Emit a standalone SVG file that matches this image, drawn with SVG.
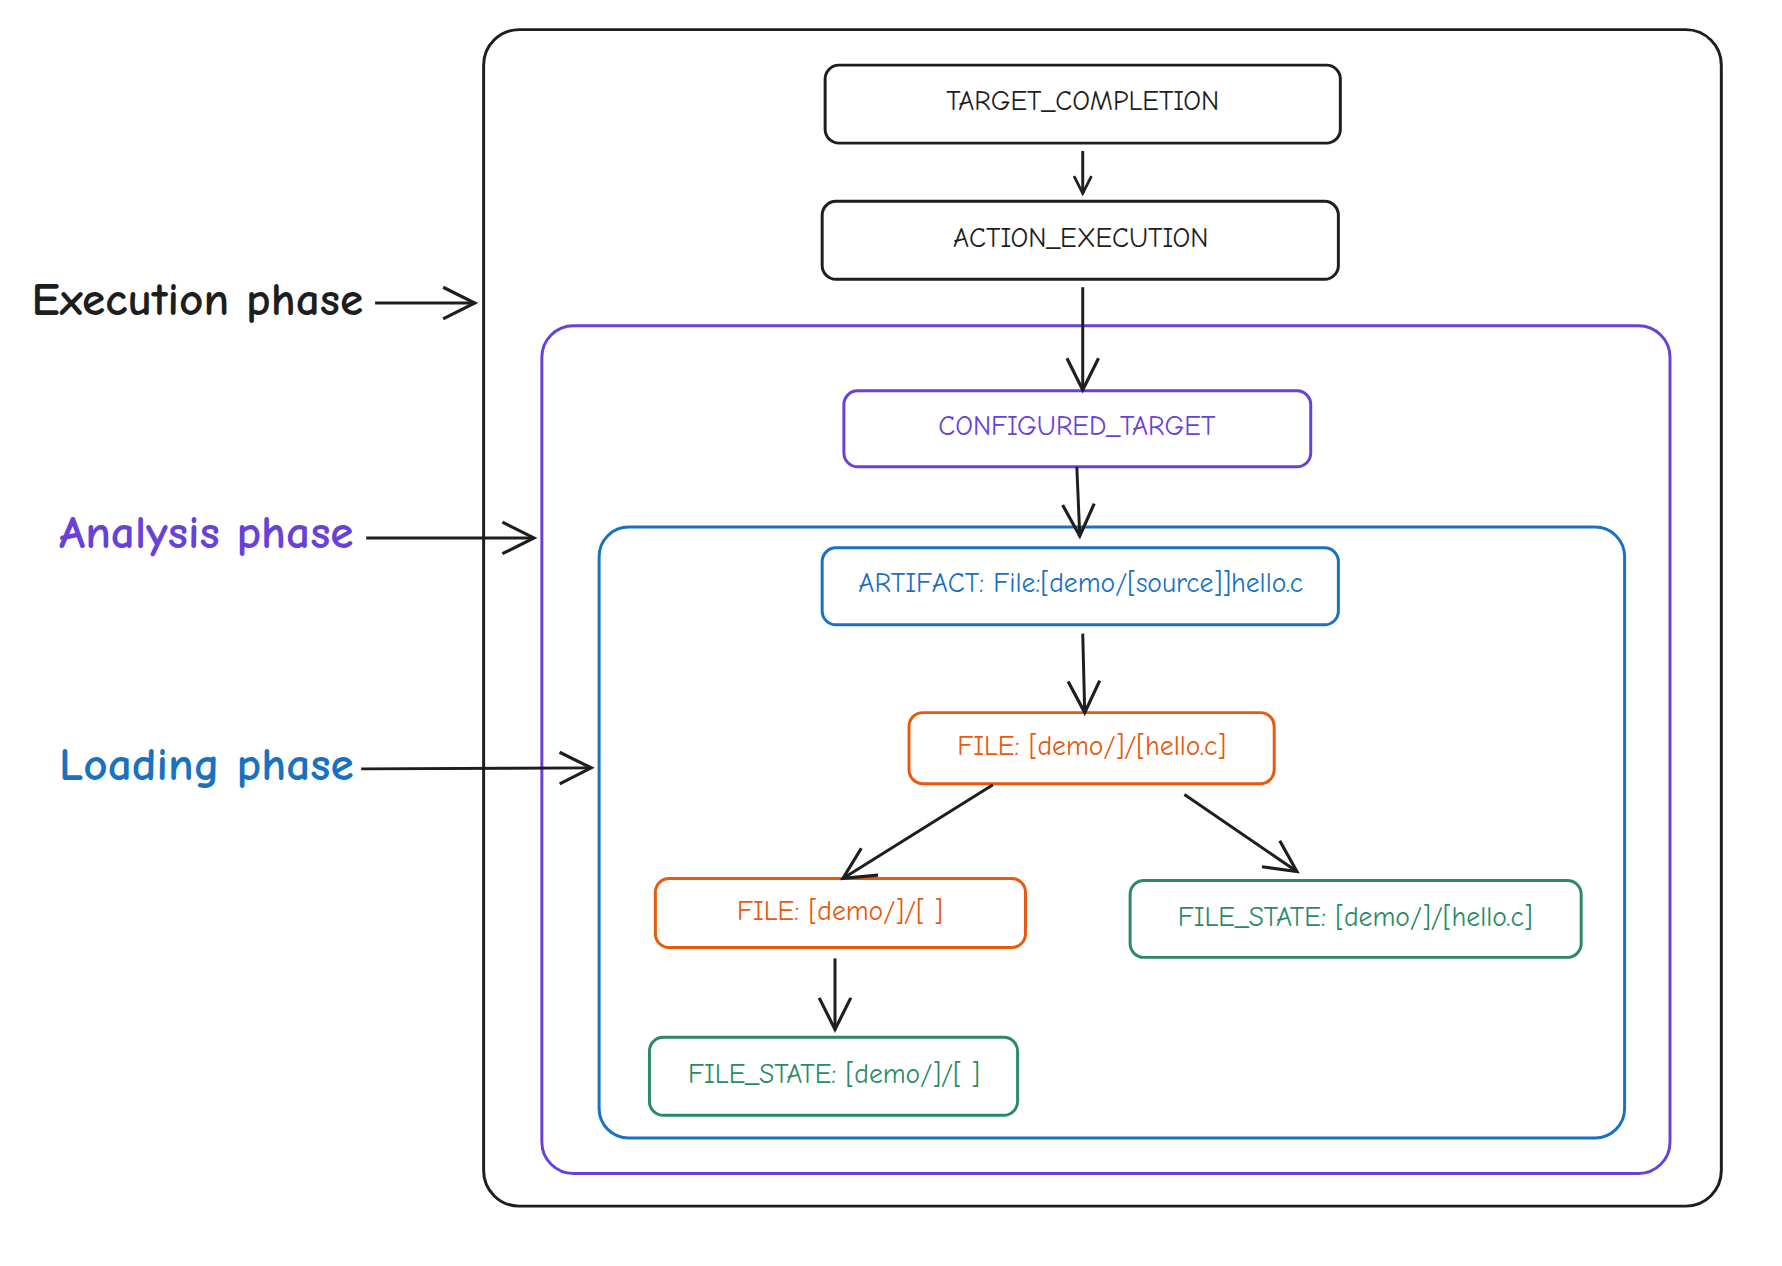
<svg xmlns="http://www.w3.org/2000/svg" width="1782" height="1266" viewBox="0 0 1782 1266">
<defs>
<marker id="ah" viewBox="0 0 20 20" refX="18" refY="10" markerWidth="22" markerHeight="22" markerUnits="userSpaceOnUse" orient="auto"><path d="M2,2 L18,10 L2,18" fill="none" stroke="#1e1e1e" stroke-width="2.5"/></marker>
<marker id="ahl" viewBox="0 0 20 20" refX="18" refY="10" markerWidth="40" markerHeight="40" markerUnits="userSpaceOnUse" orient="auto"><path d="M2,2 L18,10 L2,18" fill="none" stroke="#1e1e1e" stroke-width="1.6"/></marker>
</defs>
<style>
text{font-family:"Comic Neue","Liberation Sans",sans-serif;text-anchor:middle;dominant-baseline:middle}
.n{fill:#fff;stroke-width:3}
.k{stroke:#1e1e1e}.p{stroke:#6741d9}.b{stroke:#1971c2}.o{stroke:#e8590c}.g{stroke:#2b8a66}
.t{font-size:28px}
.l{font-size:48px;font-weight:bold}
.c{fill:none;stroke:#1e1e1e;stroke-width:3}
</style>
<rect width="1782" height="1266" fill="#fff"/>
<g transform="scale(0.987)">
<g id="execution"><rect x="490" y="30" width="1254" height="1192" rx="36" fill="none" stroke="#1e1e1e" stroke-width="3"/></g>
<g id="analysis"><rect x="549" y="330" width="1143" height="859" rx="32" fill="none" stroke="#6741d9" stroke-width="3"/></g>
<g id="loading"><rect x="607" y="534" width="1039" height="619" rx="30" fill="none" stroke="#1971c2" stroke-width="3"/></g>
<g id="n1"><rect class="n k" x="836" y="66" width="522" height="79" rx="14"/><text class="t" x="1097" y="105" fill="#1e1e1e">TARGET_COMPLETION</text></g>
<g id="n2"><rect class="n k" x="833" y="204" width="523" height="79" rx="14"/><text class="t" x="1095" y="243" fill="#1e1e1e">ACTION_EXECUTION</text></g>
<g id="n3"><rect class="n p" x="855" y="396" width="473" height="77" rx="14"/><text class="t" x="1091" y="434" fill="#6741d9">CONFIGURED_TARGET</text></g>
<g id="n4"><rect class="n b" x="833" y="555" width="523" height="78" rx="14"/><text class="t" x="1095" y="593" fill="#1971c2">ARTIFACT: File:[demo/[source]]hello.c</text></g>
<g id="n5"><rect class="n o" x="921" y="722" width="370" height="72" rx="14"/><text class="t" x="1106" y="758" fill="#e8590c">FILE: [demo/]/[hello.c]</text></g>
<g id="n6"><rect class="n o" x="664" y="890" width="375" height="70" rx="14"/><text class="t" x="851" y="925" fill="#e8590c">FILE: [demo/]/[ ]</text></g>
<g id="n7"><rect class="n g" x="1145" y="892" width="457" height="78" rx="14"/><text class="t" x="1373" y="931" fill="#2b8a66">FILE_STATE: [demo/]/[hello.c]</text></g>
<g id="n8"><rect class="n g" x="658" y="1051" width="373" height="79" rx="14"/><text class="t" x="845" y="1090" fill="#2b8a66">FILE_STATE: [demo/]/[ ]</text></g>
<g id="labels">
<text class="l" x="200" y="307" fill="#1e1e1e">Execution phase</text>
<text class="l" x="209" y="544" fill="#6741d9">Analysis phase</text>
<text class="l" x="209" y="779" fill="#1971c2">Loading phase</text>
</g>
<g id="connectors">
<line class="c" x1="380" y1="307" x2="481" y2="307" marker-end="url(#ahl)"/>
<line class="c" x1="371" y1="545" x2="541" y2="545" marker-end="url(#ahl)"/>
<line class="c" x1="366" y1="779" x2="599" y2="778" marker-end="url(#ahl)"/>
<line class="c" x1="1097" y1="153" x2="1097" y2="196" marker-end="url(#ah)"/>
<line class="c" x1="1097" y1="291" x2="1097" y2="395" marker-end="url(#ahl)"/>
<line class="c" x1="1091" y1="473" x2="1094" y2="543" marker-end="url(#ahl)"/>
<line class="c" x1="1097" y1="642" x2="1099" y2="722" marker-end="url(#ahl)"/>
<line class="c" x1="1006" y1="795" x2="854" y2="890" marker-end="url(#ahl)"/>
<line class="c" x1="1200" y1="805" x2="1314" y2="883" marker-end="url(#ahl)"/>
<line class="c" x1="846" y1="971" x2="846" y2="1043" marker-end="url(#ahl)"/>
</g>
</g>
</svg>
